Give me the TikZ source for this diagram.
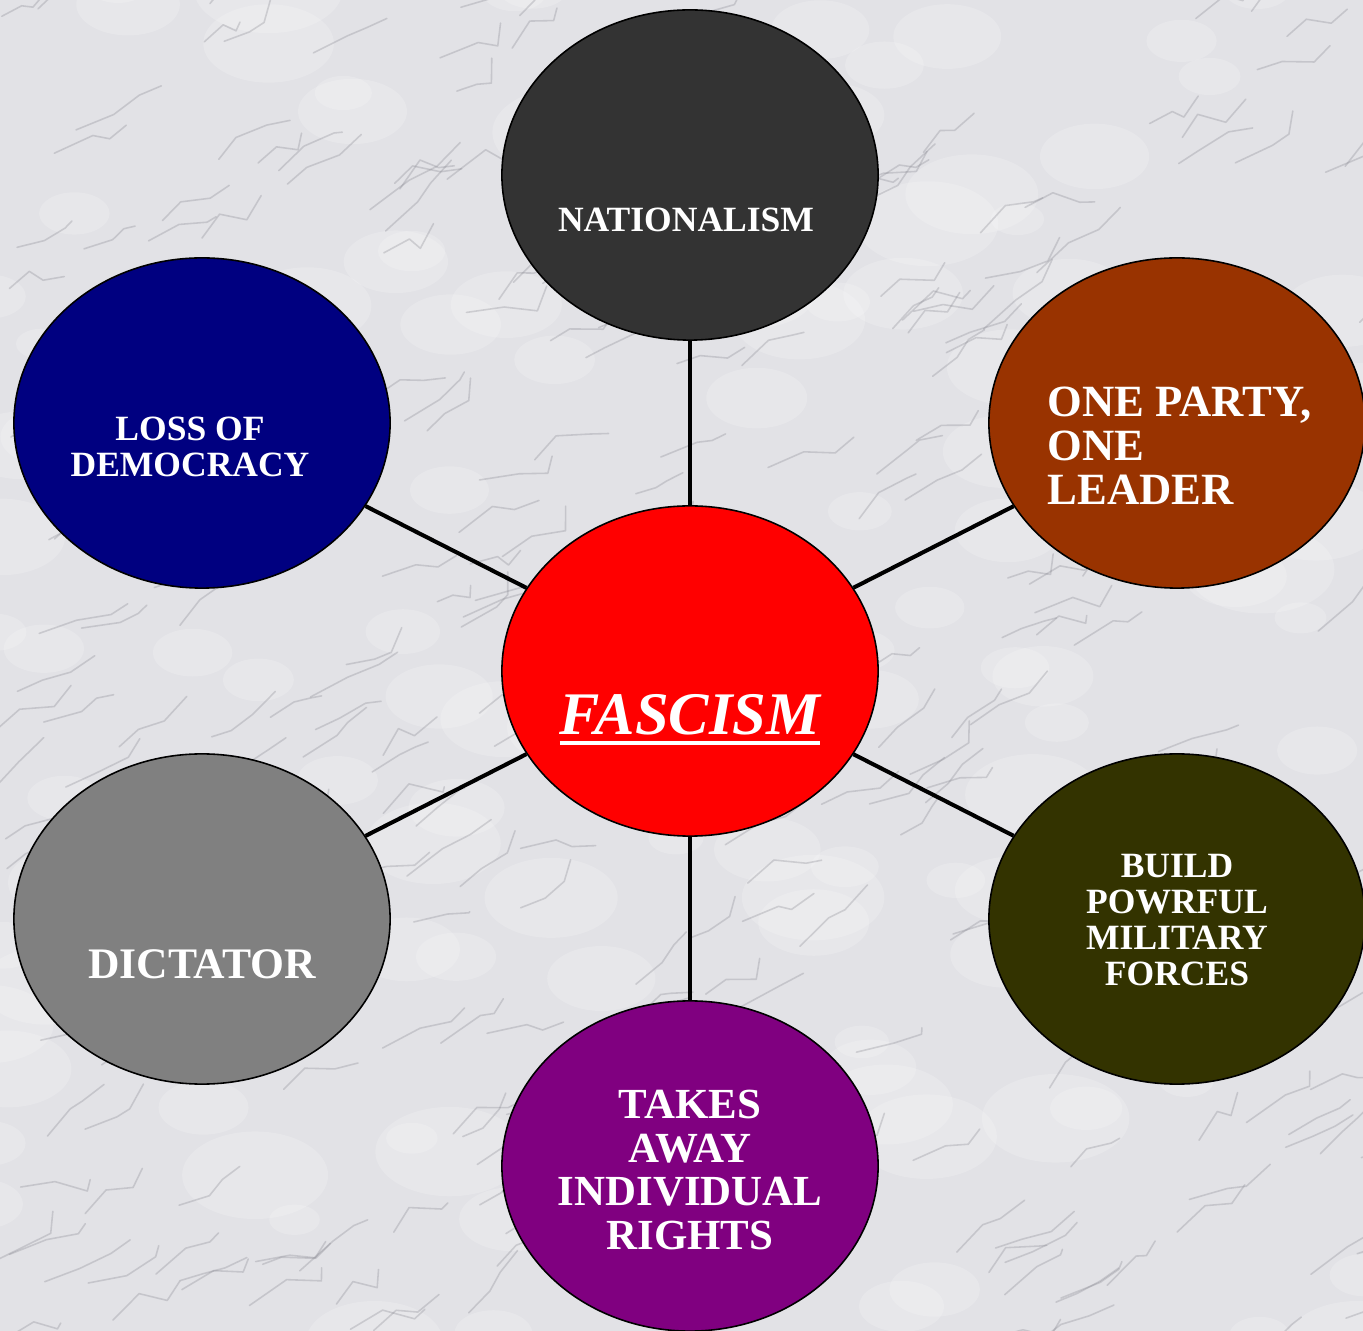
\documentclass[tikz,border=0pt]{standalone}
\usepackage{fontspec}
\setmainfont{Liberation Serif}
\usetikzlibrary{shapes.geometric}

\definecolor{marble}{HTML}{E2E2E6}
\definecolor{vein}{HTML}{85858E}
\definecolor{natgray}{HTML}{333333}
\definecolor{lossblue}{HTML}{000080}
\definecolor{partybrown}{HTML}{993300}
\definecolor{armyolive}{HTML}{333300}
\definecolor{dictgray}{HTML}{808080}
\definecolor{rightspurple}{HTML}{800080}
\definecolor{fasred}{HTML}{FF0000}

\newcommand{\thickul}[1]{\setbox0\hbox{#1}\rlap{\rule[-3.1pt]{\wd0}{1.4pt}}\box0}

\tikzset{
  bubble/.style={ellipse, draw=black, line width=0.45pt, minimum width=3.76cm, minimum height=3.30cm, inner sep=0pt},
  spoke/.style={draw=black, line width=1.15pt},
  small/.style={text=white, align=center, font=\fontsize{10.1}{10.2}\selectfont\bfseries},
  big/.style={text=white, align=center, font=\fontsize{12.4}{12.5}\selectfont\bfseries},
}

\begin{document}
\begin{tikzpicture}[x=0.01cm, y=-0.01cm]
  \useasboundingbox (0,0) rectangle (1363,1331);
  \fill[marble] (0,0) rectangle (1363,1331);

  % marble veins
  \begin{scope}
    \clip (0,0) rectangle (1363,1331);
    \pgfmathsetseed{11}
    \foreach \k in {1,...,140} {
      \pgfmathsetmacro\px{rnd*1400-20}
      \pgfmathsetmacro\py{rnd*1400-20}
      \pgfmathsetmacro\ps{25+rnd*50}
      \fill[white, opacity=0.18] (\px,\py) ellipse ({\ps} and {\ps*0.6});
    }
    \foreach \k in {1,...,320} {
      \pgfmathsetmacro\px{rnd*1400-20}
      \pgfmathsetmacro\py{rnd*1400-20}
      \pgfmathsetmacro\ax{15+rnd*25}
      \pgfmathsetmacro\ay{-(5+rnd*25)}
      \pgfmathsetmacro\bx{10+rnd*25}
      \pgfmathsetmacro\by{rnd*30-20}
      \pgfmathsetmacro\cx{rnd*25}
      \pgfmathsetmacro\cy{-(rnd*25)}
      \draw[vein, opacity=0.3, line width=0.45pt, line join=round, line cap=round]
        (\px,\py) -- ++(\ax,\ay) -- ++(\bx,\by) -- ++(\cx,\cy);
    }
  \end{scope}

  \node[bubble, fill=fasred] (fas) at (690,671) {};
  \node[bubble, fill=natgray] (nat) at (690,175) {};
  \node[bubble, fill=lossblue] (loss) at (202,423) {};
  \node[bubble, fill=partybrown] (party) at (1177,423) {};
  \node[bubble, fill=dictgray] (dict) at (202,919) {};
  \node[bubble, fill=armyolive] (army) at (1177,919) {};
  \node[bubble, fill=rightspurple] (rights) at (690,1166) {};

  \foreach \n in {nat,loss,party,dict,army,rights}
    \draw[spoke] (fas) -- (\n);

  \node[small] (natText) at (686,220) {NATIONALISM};
  \node[small] (lossText) at (190,447) {LOSS OF\\DEMOCRACY};
  \node[big, font=\fontsize{12.7}{12.5}\selectfont\bfseries, align=left, anchor=west] (partyText) at (1035,446) {ONE PARTY,\\ONE\\LEADER};
  \node[text=white, font=\fontsize{17.2}{18}\selectfont\bfseries\itshape] (fasText) at (690,720) {\thickul{FASCISM}};
  \node[small] (armyText) at (1177,920) {BUILD\\POWRFUL\\MILITARY\\FORCES};
  \node[big] (dictText) at (202,964) {DICTATOR};
  \node[big, font=\fontsize{12.2}{12.5}\selectfont\bfseries] (rightsText) at (690,1170) {TAKES\\AWAY\\INDIVIDUAL\\RIGHTS};
\end{tikzpicture}
\end{document}
